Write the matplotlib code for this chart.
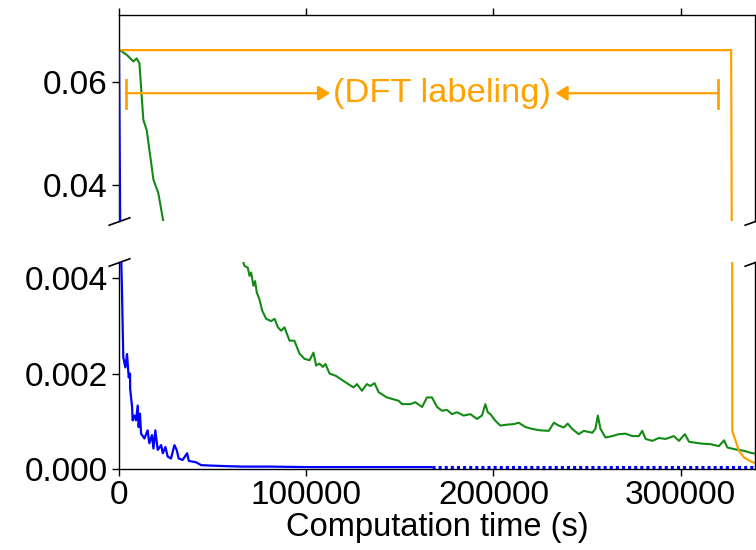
import matplotlib
matplotlib.use("Agg")
import matplotlib.pyplot as plt

plt.rcParams['font.family'] = ['Liberation Sans', 'DejaVu Sans']

# ---------------- data ----------------
blue_t = [0, 500, 1000, 1250, 1600, 2000, 2300, 3400, 4300, 4800, 5200, 5900, 5950, 7000,
          7300, 8200, 9100, 10000, 10500, 11200, 11800, 13600, 15300, 16200, 17600, 18400,
          19400, 20700, 22500, 23400, 24800, 26000, 27800, 29600, 30800, 31900, 34000,
          36400, 37300, 41200, 43900, 49700, 56900, 65800, 80000, 100000, 130000, 167000]
blue_v = [0.0661, 0.040, 0.010, 0.0043, 0.00373, 0.0029, 0.00234, 0.00213, 0.00241, 0.00213,
          0.00192, 0.0020, 0.00168, 0.0013, 0.00102, 0.00112, 0.00102, 0.00133, 0.00088,
          0.00116, 0.00074, 0.00064, 0.00081, 0.00054, 0.00071, 0.00043, 0.00081, 0.0004,
          0.0005, 0.00033, 0.00046, 0.00026, 0.00022, 0.0005, 0.0004, 0.00022, 0.00019,
          0.00033, 0.00017, 0.00014, 0.00008, 0.00007, 0.00006, 0.00005, 0.00005, 0.00004,
          0.00004, 0.00004]

blue_dot_t = [167000, 340000]
blue_dot_v = [0.00004, 0.00004]

green_t = [0, 500, 4100, 7700, 9400, 10900, 13000, 14800, 18400, 21000, 23700, 30000, 40000,
           50000, 60000, 67000, 68800, 69700, 70600, 71800, 72700, 73600, 75000, 76500,
           78600, 81300, 83100, 84900, 86600, 88400, 91100, 93700, 96400, 99100, 101800,
           103900, 105300, 107100, 108900, 110300, 112500, 116000, 120900, 125300, 127100,
           129800, 132400, 134200, 136500, 138700, 143100, 149400, 151200, 155600, 158300,
           161900, 164500, 167200, 169900, 172600, 175200, 177900, 180600, 184100, 187700,
           191200, 193900, 195700, 197000, 198400, 201100, 203700, 207300, 210900, 213500,
           217100, 220700, 225100, 229600, 232300, 234900, 237600, 239700, 242100, 245600,
           248300, 252800, 254500, 255800, 257200, 259900, 263500, 267000, 270600, 274200,
           277700, 279500, 281300, 284900, 288400, 292000, 296400, 299100, 302300, 304500,
           308000, 311600, 316000, 320500, 323200, 325000, 329400, 333900, 337400, 340000]
green_v = [0.0661, 0.0661, 0.0652, 0.0639, 0.0645, 0.0636, 0.0526, 0.0506, 0.041, 0.0384,
           0.0329, 0.022, 0.012, 0.0075, 0.0052, 0.00426, 0.00422, 0.00405, 0.00412,
           0.00384, 0.00394, 0.0037, 0.00356, 0.00332, 0.00315, 0.0031, 0.00315, 0.00297,
           0.0029, 0.00297, 0.00269, 0.00269, 0.00242, 0.00231, 0.00228, 0.00244, 0.00217,
           0.00221, 0.00214, 0.0022, 0.0020, 0.00195, 0.00182, 0.00171, 0.00178, 0.00164,
           0.00178, 0.00174, 0.0018, 0.00161, 0.0015, 0.00143, 0.00136, 0.00136, 0.0014,
           0.0013, 0.0015, 0.0015, 0.0013, 0.00122, 0.00124, 0.00115, 0.00119, 0.00112,
           0.00115, 0.00105, 0.00112, 0.00136, 0.00119, 0.00115, 0.00101, 0.00091, 0.00093,
           0.00094, 0.00097, 0.00088, 0.00084, 0.00081, 0.0008, 0.00097, 0.00091, 0.00087,
           0.00095, 0.00084, 0.00073, 0.0008, 0.00076, 0.00084, 0.00112, 0.00084, 0.00066,
           0.00069, 0.00073, 0.00074, 0.00069, 0.00069, 0.0008, 0.00063, 0.00059, 0.00065,
           0.00063, 0.00069, 0.00059, 0.00073, 0.00057, 0.00055, 0.00053, 0.00052, 0.00048,
           0.0006, 0.00045, 0.00041, 0.00038, 0.00034, 0.00032]

orange_t = [0, 327000, 327600, 329400, 331200, 333900, 337400, 340000]
orange_v = [0.0661, 0.0661, 0.0008, 0.00059, 0.00038, 0.00024, 0.00016, 0.00012]

x_ticks = [0, 100000, 200000, 300000]
x_tick_labels = ['0', '100000', '200000', '300000']
top_y_ticks = [0.04, 0.06]
top_y_labels = ['0.04', '0.06']
bot_y_ticks = [0.000, 0.002, 0.004]
bot_y_labels = ['0.000', '0.002', '0.004']

annot_text = '(DFT labeling)'

# ---------------- figure ----------------
BLUE = '#0000ff'
GREEN = '#138a13'
ORANGE = '#ffa200'
FS = 24

fig = plt.figure(figsize=(7.56, 5.5), dpi=100)
left, right = 0.1574, 0.9993
ax1 = fig.add_axes([left, 0.5982, right - left, 0.9727 - 0.5982])
ax2 = fig.add_axes([left, 0.1473, right - left, 0.5245 - 0.1473])

for ax in (ax1, ax2):
    ax.plot(blue_t, blue_v, color=BLUE, lw=1.6, zorder=3)
    ax.plot(blue_dot_t, blue_dot_v, color=BLUE, lw=2.2, linestyle=(0, (1, 1)), zorder=3)
    ax.plot(green_t, green_v, color=GREEN, lw=1.5, zorder=2)
    ax.plot(orange_t, orange_v, color=ORANGE, lw=1.6, zorder=2)
    ax.set_xlim(0, 340000)
    ax.set_xticks(x_ticks)
    for s in ax.spines.values():
        s.set_linewidth(1.0)
    ax.tick_params(direction='out', length=5, width=1.0, labelsize=FS, pad=3)

ax1.set_ylim(0.033, 0.0729)
ax2.set_ylim(0.0, 0.00435)

ax1.spines['bottom'].set_visible(False)
ax2.spines['top'].set_visible(False)
ax1.xaxis.tick_top()
ax1.tick_params(axis='x', labeltop=False, length=5)
ax1.set_yticks(top_y_ticks)
ax1.set_yticklabels(top_y_labels)

ax2.xaxis.tick_bottom()
ax2.set_xticklabels(x_tick_labels)
ax2.set_yticks(bot_y_ticks)
ax2.set_yticklabels(bot_y_labels)
ax2.set_xlabel('Computation time (s)', fontsize=23.5, labelpad=1)

# annotation
ay = 0.05775
bar_lo, bar_hi = 0.0549, 0.0603
x_bar_l, x_tip_l = 3600, 112800
x_bar_r, x_tip_r = 319800, 233200
ax1.plot([x_bar_l, x_bar_l], [bar_lo, bar_hi], color=ORANGE, lw=2)
ax1.plot([x_bar_r, x_bar_r], [bar_lo, bar_hi], color=ORANGE, lw=2)
aprops = dict(arrowstyle='-|>,head_length=0.4,head_width=0.25', color=ORANGE, lw=1.6,
              mutation_scale=18, shrinkA=0, shrinkB=0)
ax1.annotate('', xy=(x_tip_l, ay), xytext=(x_bar_l, ay), arrowprops=aprops)
ax1.annotate('', xy=(x_tip_r, ay), xytext=(x_bar_r, ay), arrowprops=aprops)
ax1.text(172500, ay, annot_text, color=ORANGE, fontsize=24.8, ha='center', va='center')

# break marks
d = 0.36
kw = dict(marker=[(-1, -d), (1, d)], markersize=16, linestyle='none',
          color='k', mec='k', mew=1.2, clip_on=False)
ax1.plot([0, 1], [0, 0], transform=ax1.transAxes, **kw)
ax2.plot([0, 1], [1, 1], transform=ax2.transAxes, **kw)

fig.savefig('out.png', dpi=100)
